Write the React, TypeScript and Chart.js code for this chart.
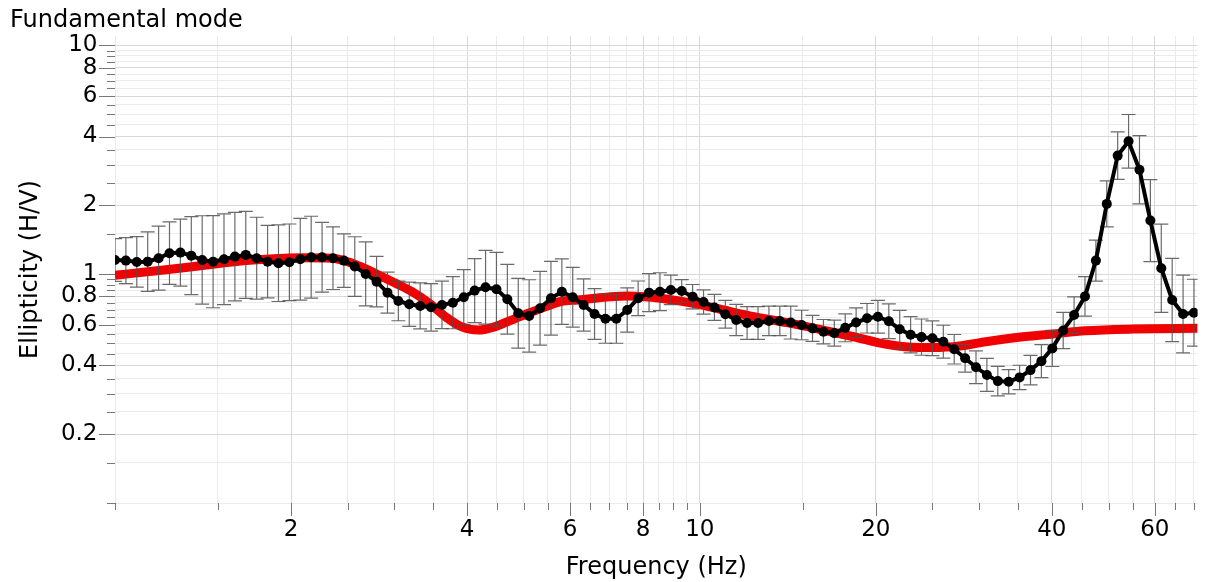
import React, { useEffect, useRef } from "react";
import { Chart, registerables } from "chart.js";

Chart.register(...registerables);

// Measured ellipticity curve (frequency in Hz)
const frequencies = [
  1, 1.0438, 1.0896, 1.1374, 1.1873, 1.2393, 1.2937, 1.3504, 1.4096, 1.4714,
  1.5359, 1.6033, 1.6736, 1.747, 1.8236, 1.9035, 1.987, 2.0741, 2.1651, 2.26,
  2.3591, 2.4626, 2.5705, 2.6832, 2.8009, 2.9237, 3.0519, 3.1857, 3.3254, 3.4712,
  3.6234, 3.7823, 3.9482, 4.1213, 4.302, 4.4906, 4.6875, 4.8931, 5.1076, 5.3316,
  5.5654, 5.8094, 6.0641, 6.33, 6.6076, 6.8973, 7.1997, 7.5154, 7.845, 8.189,
  8.548, 8.9228, 9.3141, 9.7225, 10.149, 10.594, 11.058, 11.543, 12.049, 12.578,
  13.129, 13.705, 14.306, 14.933, 15.588, 16.271, 16.985, 17.73, 18.507, 19.319,
  20.166, 21.05, 21.973, 22.936, 23.942, 24.992, 26.088, 27.231, 28.425, 29.672,
  30.973, 32.331, 33.749, 35.228, 36.773, 38.386, 40.069, 41.826, 43.66, 45.574,
  47.572, 49.658, 51.835, 54.108, 56.481, 58.957, 61.543, 64.241, 67.058, 70,
];

const ellipticity = [
  1.155, 1.147, 1.132, 1.135, 1.175, 1.236, 1.243, 1.206, 1.155, 1.135,
  1.163, 1.194, 1.215, 1.175, 1.135, 1.117, 1.128, 1.163, 1.187, 1.187,
  1.175, 1.147, 1.08, 1.003, 0.928, 0.831, 0.764, 0.739, 0.727, 0.717,
  0.734, 0.751, 0.793, 0.848, 0.877, 0.86, 0.777, 0.675, 0.657, 0.71,
  0.785, 0.839, 0.793, 0.734, 0.67, 0.639, 0.639, 0.698, 0.785, 0.831,
  0.839, 0.854, 0.845, 0.798, 0.756, 0.716, 0.668, 0.631, 0.612, 0.612,
  0.625, 0.625, 0.615, 0.6, 0.58, 0.561, 0.553, 0.583, 0.615, 0.642,
  0.652, 0.623, 0.575, 0.544, 0.531, 0.525, 0.507, 0.47, 0.429, 0.392,
  0.363, 0.341, 0.339, 0.354, 0.381, 0.417, 0.474, 0.568, 0.663, 0.8,
  1.147, 2.03, 3.3, 3.81, 2.86, 1.716, 1.062, 0.772, 0.67, 0.679,
];

// Geometric standard deviation (error bar = value / std ... value * std)
const stdFactor = [
  1.24, 1.26, 1.29, 1.35, 1.38, 1.37, 1.4, 1.48, 1.56, 1.59,
  1.58, 1.56, 1.55, 1.51, 1.44, 1.47, 1.47, 1.51, 1.51, 1.42,
  1.37, 1.31, 1.35, 1.38, 1.29, 1.23, 1.22, 1.25, 1.26, 1.27,
  1.27, 1.3, 1.32, 1.38, 1.45, 1.45, 1.42, 1.42, 1.44, 1.45,
  1.45, 1.39, 1.35, 1.3, 1.29, 1.28, 1.28, 1.25, 1.19, 1.21,
  1.21, 1.16, 1.12, 1.13, 1.13, 1.14, 1.15, 1.17, 1.18, 1.18,
  1.16, 1.16, 1.18, 1.16, 1.14, 1.13, 1.14, 1.15, 1.16, 1.16,
  1.18, 1.19, 1.21, 1.2, 1.2, 1.19, 1.18, 1.16, 1.15, 1.18,
  1.18, 1.16, 1.13, 1.13, 1.16, 1.18, 1.2, 1.2, 1.2, 1.22,
  1.23, 1.26, 1.27, 1.31, 1.41, 1.51, 1.56, 1.52, 1.48, 1.4,
];

// Theoretical fundamental-mode ellipticity (red curve)
const modelFreq = [
  1, 1.2, 1.4, 1.7, 2.07, 2.35, 2.51, 2.72, 2.83, 3.0,
  3.22, 3.44, 3.68, 3.91, 4.18, 4.47, 4.76, 5.09, 5.44, 5.79,
  6.19, 6.62, 7.04, 7.53, 8.05, 8.57, 9.16, 9.91, 10.84, 12.39,
  14.1, 16.04, 18.33, 20.86, 23.74, 27.13, 30.86, 35.13, 40.13, 45.66,
  55, 71,
];
const modelEllipticity = [
  0.99, 1.04, 1.09, 1.15, 1.18, 1.175, 1.13, 1.04, 0.99, 0.92,
  0.84, 0.75, 0.65, 0.59, 0.57, 0.59, 0.63, 0.675, 0.72, 0.76,
  0.772, 0.785, 0.798, 0.804, 0.798, 0.785, 0.767, 0.74, 0.703, 0.652,
  0.614, 0.574, 0.533, 0.494, 0.478, 0.482, 0.507, 0.53, 0.548, 0.566,
  0.576, 0.58,
];

// Axis ticks
const xTickValues = [
  1, 1.5, 2, 2.5, 3, 3.5, 4, 4.5, 5, 5.5, 6, 6.5, 7, 7.5, 8, 8.5, 9, 9.5, 10,
  15, 20, 25, 30, 35, 40, 45, 50, 55, 60, 65, 70,
];
const xTickLabels = [2, 4, 6, 8, 10, 20, 40, 60];
const yTickValues = [
  0.1, 0.15, 0.2, 0.25, 0.3, 0.35, 0.4, 0.45, 0.5, 0.55, 0.6, 0.65, 0.7, 0.75,
  0.8, 0.85, 0.9, 0.95, 1, 1.5, 2, 2.5, 3, 3.5, 4, 4.5, 5, 5.5, 6, 6.5, 7, 7.5,
  8, 8.5, 9, 9.5, 10,
];
const yTickLabels = [0.2, 0.4, 0.6, 0.8, 1, 2, 4, 6, 8, 10];

const FONT = '"DejaVu Sans", Verdana, sans-serif';

const errorBarPlugin = {
  id: "errorBars",
  afterDatasetDraw(chart: any, args: any) {
    if (args.index !== 1) return;
    const { ctx, scales, chartArea } = chart;
    const xs = scales.x;
    const ys = scales.y;
    ctx.save();
    ctx.beginPath();
    ctx.rect(chartArea.left, chartArea.top, chartArea.right - chartArea.left, chartArea.bottom - chartArea.top);
    ctx.clip();
    ctx.strokeStyle = "rgba(80,80,80,0.85)";
    ctx.lineWidth = 1.2;
    for (let i = 0; i < frequencies.length; i++) {
      const x = xs.getPixelForValue(frequencies[i]);
      const yHi = ys.getPixelForValue(ellipticity[i] * stdFactor[i]);
      const yLo = ys.getPixelForValue(ellipticity[i] / stdFactor[i]);
      const half = 7;
      ctx.beginPath();
      ctx.moveTo(x, yHi);
      ctx.lineTo(x, yLo);
      ctx.moveTo(x - half, yHi);
      ctx.lineTo(x + half, yHi);
      ctx.moveTo(x - half, yLo);
      ctx.lineTo(x + half, yLo);
      ctx.stroke();
    }
    ctx.restore();
  },
};

const tickMarkPlugin = {
  id: "tickMarks",
  afterDraw(chart: any) {
    const { ctx, scales, chartArea } = chart;
    ctx.save();
    ctx.strokeStyle = "#777";
    ctx.lineWidth = 1;
    for (const v of xTickValues) {
      const px = Math.round(scales.x.getPixelForValue(v)) + 0.5;
      const len = xTickLabels.includes(v) ? 13 : 7;
      ctx.beginPath();
      ctx.moveTo(px, chartArea.bottom);
      ctx.lineTo(px, chartArea.bottom + len);
      ctx.stroke();
    }
    for (const v of yTickValues) {
      const py = Math.round(scales.y.getPixelForValue(v)) + 0.5;
      const len = yTickLabels.includes(v) ? 16 : 8;
      ctx.beginPath();
      ctx.moveTo(chartArea.left - len, py);
      ctx.lineTo(chartArea.left, py);
      ctx.stroke();
    }
    // chart heading
    ctx.fillStyle = "#000";
    ctx.font = `24px ${FONT}`;
    ctx.textBaseline = "alphabetic";
    ctx.textAlign = "left";
    ctx.fillText("Fundamental mode", 10, 27);
    ctx.restore();
  },
};

export default function App() {
  const ref = useRef<HTMLCanvasElement>(null);

  useEffect(() => {
    document.body.style.margin = "0";
    const canvas = ref.current;
    if (!canvas) return;
    const chart = new Chart(canvas, {
      type: "line",
      data: {
        datasets: [
          {
            label: "Measured",
            data: frequencies.map((f, i) => ({ x: f, y: ellipticity[i] })),
            borderColor: "#000",
            backgroundColor: "#000",
            borderWidth: 4,
            pointRadius: 5,
            pointBackgroundColor: "#000",
            pointBorderWidth: 0,
            tension: 0,
            order: 0,
          },
          {
            label: "Model",
            data: modelFreq.map((f, i) => ({ x: f, y: modelEllipticity[i] })),
            borderColor: "#f00000",
            backgroundColor: "#f00000",
            borderWidth: 9,
            pointRadius: 0,
            cubicInterpolationMode: "monotone",
            order: 1,
          },
        ],
      },
      options: {
        responsive: false,
        animation: false,
        layout: { padding: { top: 36, right: 4, left: 0, bottom: 0 } },
        plugins: {
          legend: { display: false },
          tooltip: { enabled: false },
        },
        scales: {
          x: {
            type: "logarithmic",
            min: 1,
            max: 71,
            afterBuildTicks: (s: any) => {
              s.ticks = xTickValues.map((v) => ({ value: v }));
            },
            afterFit: (s: any) => {
              s.height = 79;
            },
            ticks: {
              autoSkip: false,
              maxRotation: 0,
              minRotation: 0,
              padding: 13,
              color: "#000",
              font: { family: FONT, size: 23 },
              callback: (v: any) => (xTickLabels.includes(Number(v)) ? String(v) : ""),
            },
            grid: {
              drawTicks: false,
              color: (c: any) => (xTickLabels.includes(c.tick?.value) ? "#d8d8d8" : "#ebebeb"),
              lineWidth: 1,
            },
            border: { display: false },
            title: {
              display: true,
              text: "Frequency (Hz)",
              color: "#000",
              font: { family: FONT, size: 24 },
              padding: { top: 2, bottom: 0 },
            },
          },
          y: {
            type: "logarithmic",
            min: 0.1,
            max: 11,
            afterBuildTicks: (s: any) => {
              s.ticks = yTickValues.map((v) => ({ value: v }));
            },
            afterFit: (s: any) => {
              s.width = 115;
            },
            ticks: {
              autoSkip: false,
              padding: 17.5,
              color: "#000",
              font: { family: FONT, size: 23 },
              callback: (v: any) => (yTickLabels.includes(Number(v)) ? String(v) : ""),
            },
            grid: {
              drawTicks: false,
              color: (c: any) => (yTickLabels.includes(c.tick?.value) ? "#d8d8d8" : "#ebebeb"),
              lineWidth: 1,
            },
            border: { display: false },
            title: {
              display: true,
              text: "Ellipticity (H/V)",
              color: "#000",
              font: { family: FONT, size: 24 },
              padding: { top: 16, bottom: 0 },
            },
          },
        },
      },
      plugins: [errorBarPlugin, tickMarkPlugin],
    } as any);
    return () => chart.destroy();
  }, []);

  return (
    <div style={{ width: 1207, height: 582 }}>
      <canvas ref={ref} width={1207} height={582} style={{ display: "block" }} />
    </div>
  );
}
